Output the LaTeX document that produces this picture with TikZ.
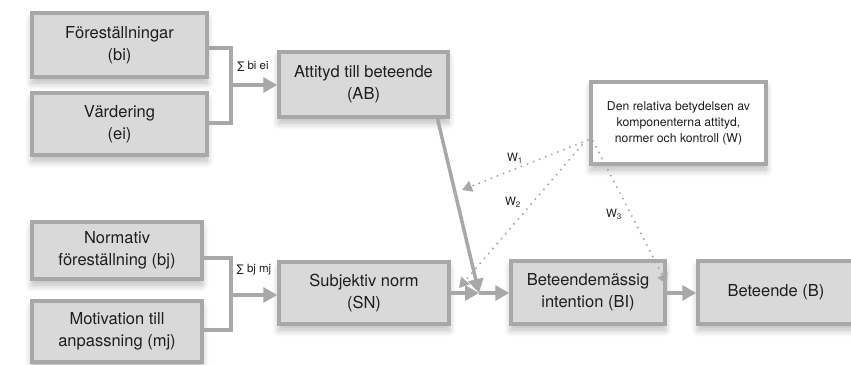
\documentclass[tikz,border=0pt]{standalone}
\usepackage{fontspec}
\setmainfont{TeX Gyre Heros}
\newfontfamily\symfont{DejaVu Sans}
\usetikzlibrary{arrows.meta,shadows.blur}

\definecolor{edgegray}{HTML}{A8A8A8}
\definecolor{boxfill}{HTML}{D9D9D9}
\definecolor{inkgray}{HTML}{1E1E1E}

\tikzset{
  box/.style={draw=edgegray, line width=3.5pt, fill=boxfill, rectangle,
    align=center, text=inkgray, font=\fontsize{16.5}{22}\selectfont,
    inner sep=0pt,
    blur shadow={shadow xshift=0pt, shadow yshift=-6pt, shadow blur steps=12,
      shadow opacity=28, shadow blur radius=7pt}},
  notebox/.style={box, fill=white, font=\fontsize{12.2}{16}\selectfont},
  link/.style={draw=edgegray, line width=3.5pt},
  arr/.style={link, -{Triangle[length=14pt,width=15pt]}},
  weight/.style={draw=edgegray, line width=2.2pt, line cap=round,
    dash pattern=on 0pt off 6.5pt,
    -{Triangle[length=10pt,width=11pt,fill=edgegray]}},
  lbl/.style={font=\fontsize{11.5}{13}\selectfont, text=inkgray, inner sep=0pt},
}

\begin{document}
\begin{tikzpicture}[x=1pt, y=-1pt]
\useasboundingbox (0,0) rectangle (851,364);

% attitude branch
\node[box, minimum width=175pt, minimum height=64pt] (fb) at (119.5,45) {Föreställningar\\(bi)};
\node[box, minimum width=175pt, minimum height=62pt] (vd) at (119.5,124) {Värdering\\(ei)};
\node[box, minimum width=169pt, minimum height=65pt] (ab) at (363.5,84.5) {Attityd till beteende\\(AB)};

% norm branch
\node[box, minimum width=170pt, minimum height=57pt] (nf) at (117,250.5) {Normativ\\föreställning (bj)};
\node[box, minimum width=170pt, minimum height=61pt] (mt) at (117,331.5) {Motivation till\\anpassning (mj)};
\node[box, minimum width=170pt, minimum height=62pt] (sn) at (364,293) {Subjektiv norm\\(SN)};

% intention and behaviour
\node[box, minimum width=154pt, minimum height=63pt] (bi) at (588,292.5) {Beteendemässig\\intention (BI)};
\node[box, minimum width=156pt, minimum height=63pt] (bb) at (776,292.5) {Beteende (B)};

% weights box
\node[notebox, minimum width=175pt, minimum height=82pt] (wb) at (678.5,123)
  {Den relativa betydelsen av\\komponenterna attityd,\\normer och kontroll (W)};

% summation brackets
\coordinate (ka1) at (231,48);
\coordinate (ka2) at (231,123);
\coordinate (ka) at (231,85);
\draw[link] (fb.east |- ka1) -- (ka1) -- (ka2) -- (vd.east |- ka2);
\draw[arr] (ka) -- (ab.west |- ka);
\node[lbl] (sa) at (253,66) {{\symfont\fontsize{10.5}{12}\selectfont ∑} bi ei};

\coordinate (kn1) at (231,258);
\coordinate (kn2) at (231,330);
\coordinate (kn) at (231,295);
\draw[link] (nf.east |- kn1) -- (kn1) -- (kn2) -- (mt.east |- kn2);
\draw[arr] (kn) -- (sn.west |- kn);
\node[lbl] (sb) at (254,270) {{\symfont\fontsize{10.5}{12}\selectfont ∑} bj mj};

% main paths into the intention
\coordinate (jn) at (479,293);
\draw[arr] ([xshift=74pt]ab.south) -- (jn);
\draw[arr] (sn.east |- jn) -- (jn);
\draw[arr] (jn) -- (bi.west |- jn);
\draw[arr] (bi.east |- jn) -- (bb.west |- jn);

% weights
\coordinate (w1s) at (588,140);
\coordinate (w1e) at (462,190);
\coordinate (w2s) at (582,145);
\coordinate (w2e) at (459,288);
\coordinate (w3s) at (593,141);
\coordinate (w3e) at (667,284);
\draw[weight] (w1s) -- (w1e);
\draw[weight] (w2s) -- (w2e);
\draw[weight] (w3s) -- (w3e);
\node[lbl] (l1) at (515,158) {W\textsubscript{1}};
\node[lbl] (l2) at (513,202) {W\textsubscript{2}};
\node[lbl] (l3) at (614,214) {W\textsubscript{3}};
\end{tikzpicture}
\end{document}
